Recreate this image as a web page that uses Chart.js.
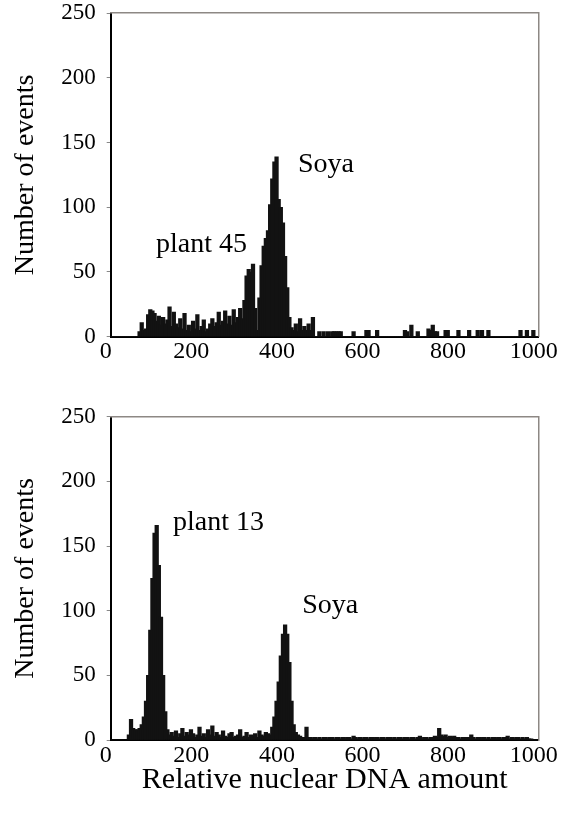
<!DOCTYPE html>
<html><head><meta charset="utf-8">
<script src="https://cdn.jsdelivr.net/npm/chart.js@4/dist/chart.umd.min.js"></script>
<style>
html,body{margin:0;padding:0;background:#fff;width:566px;height:813px;overflow:hidden}
.box{position:absolute;left:0;width:566px}
#b1{top:0;height:370px}
#b2{top:400px;height:413px}
</style></head><body>
<div class="box" id="b1"><canvas id="c1" width="566" height="370"></canvas></div>
<div class="box" id="b2"><canvas id="c2" width="566" height="413"></canvas></div>
<script>
// Histogram bins: width 5 units, bin i covers [5i, 5i+5)
const binWidth = 5;
const xTicks = [0, 200, 400, 600, 800, 1000];
const yTicks = [0, 50, 100, 150, 200, 250];

// Upper panel: plant 45 + Soya (20 rows x 10 bins = 0..995)
const countsPlant45 = [
  0,0,0,0,0,0,0,0,0,0,
  0,0,0,4,11,5,6,17,21,20,
  18,12,16,9,15,10,13,23,8,19,
  10,7,14,6,18,5,9,4,12,6,
  17,5,8,13,4,6,10,14,8,11,
  19,9,12,20,10,16,9,21,11,15,
  22,14,28,47,52,50,56,22,5,30,
  55,70,76,82,102,122,135,139,106,100,
  88,62,38,15,7,5,10,4,14,5,
  8,5,10,5,15,0,0,4,0,4,
  0,4,0,4,4,4,4,4,0,0,
  0,0,0,4,0,0,0,0,0,5,
  5,0,0,0,5,0,0,0,0,0,
  0,0,0,0,0,0,0,5,4,0,
  9,0,0,4,0,0,0,0,6,5,
  9,4,4,0,0,0,5,5,0,0,
  0,0,5,0,0,0,0,5,0,0,
  0,5,0,5,0,0,5,0,0,0,
  0,0,0,0,0,0,0,0,0,0,
  0,5,0,0,5,0,0,5,0,0
];

// Lower panel: plant 13 + Soya
const countsPlant13 = [
  0,0,0,0,0,0,0,0,4,16,
  9,8,8,9,12,18,30,50,85,125,
  160,166,135,95,50,22,8,4,6,3,
  7,2,5,9,3,6,4,8,5,2,
  4,10,3,5,2,8,4,11,3,6,
  4,2,7,3,2,5,6,2,3,4,
  8,2,3,6,2,4,3,5,2,7,
  4,3,6,5,4,10,18,30,45,65,
  82,89,82,60,30,12,6,4,3,2,
  2,10,2,2,1,2,1,2,1,2,
  2,1,2,2,1,2,2,1,2,1,
  2,2,1,3,2,1,2,1,2,2,
  1,2,2,1,2,1,2,2,1,2,
  2,1,2,1,2,2,1,2,2,1,
  2,2,1,2,3,1,2,2,1,2,
  2,3,2,9,4,3,4,2,3,2,
  3,2,2,1,2,2,2,2,4,2,
  1,2,2,1,2,1,2,1,2,2,
  1,2,1,2,2,3,1,2,1,2,
  2,1,2,1,2,1,1,0,0,0
];

const notesTop = [
  {text: 'plant 45', x: 212, y: 71},
  {text: 'Soya', x: 503, y: 133}
];
const notesBottom = [
  {text: 'plant 13', x: 252, y: 168},
  {text: 'Soya', x: 513, y: 104}
];

const SERIF = "'Liberation Serif', 'Times New Roman', serif";

const notesPlugin = {
  id: 'notes',
  afterDatasetsDraw(chart, args, opts) {
    const ctx = chart.ctx, xs = chart.scales.x, ys = chart.scales.y;
    ctx.save();
    ctx.font = '28px ' + SERIF;
    ctx.fillStyle = '#000';
    ctx.textAlign = 'center';
    ctx.textBaseline = 'middle';
    for (const n of opts.items) {
      ctx.fillText(n.text, xs.getPixelForValue(n.x), ys.getPixelForValue(n.y));
    }
    ctx.restore();
  }
};

function makeChart(id, counts, notes, cfg) {
  const data = counts.map((c, i) => ({x: i * binWidth + binWidth / 2, y: c}));
  return new Chart(document.getElementById(id), {
    type: 'bar',
    data: {
      datasets: [{
        data: data,
        backgroundColor: '#121212',
        borderWidth: 0,
        barThickness: 3.6,
        grouped: false
      }]
    },
    plugins: [notesPlugin],
    options: {
      responsive: false,
      animation: false,
      devicePixelRatio: 1,
      layout: {padding: {top: cfg.top, right: 27.3, left: 0, bottom: 0}},
      plugins: {legend: {display: false}, tooltip: {enabled: false}, notes: {items: notes}},
      scales: {
        x: {
          type: 'linear', position: 'bottom', min: 0, max: 1000, offset: false,
          afterBuildTicks: s => { s.ticks = xTicks.map(v => ({value: v})); },
          afterFit: s => { s.height = cfg.xHeight; s.paddingLeft = 0; s.paddingRight = 0; },
          ticks: {
            font: {family: SERIF, size: 24}, color: '#000', padding: 1,
            labelOffset: -5, maxRotation: 0, autoSkip: false,
            callback: v => String(v)
          },
          grid: {drawOnChartArea: false, drawTicks: false, offset: false},
          border: {color: '#000', width: 2},
          title: {
            display: !!cfg.xTitle, text: cfg.xTitle || '',
            font: {family: SERIF, size: 30}, color: '#000',
            padding: {top: 0, bottom: 15}
          }
        },
        y: {
          type: 'linear', position: 'left', min: 0, max: 250,
          afterBuildTicks: s => { s.ticks = yTicks.map(v => ({value: v})); },
          afterFit: s => { s.width = 110.7; s.paddingTop = 0; s.paddingBottom = 0; },
          ticks: {font: {family: SERIF, size: 23}, color: '#000', padding: 11},
          grid: {drawOnChartArea: false, tickLength: 4, color: '#888'},
          border: {color: '#000', width: 2},
          title: {
            display: true, text: 'Number of events',
            font: {family: SERIF, size: 28}, color: '#000',
            padding: {top: 9, bottom: 0}
          }
        },
        xTop: {
          type: 'linear', position: 'top', min: 0, max: 1000, offset: false,
          ticks: {display: false}, grid: {display: false, drawTicks: false},
          afterFit: s => { s.height = 0; },
          border: {color: '#8d8884', width: 1.5}
        },
        yRight: {
          type: 'linear', position: 'right', min: 0, max: 250,
          ticks: {display: false}, grid: {display: false, drawTicks: false},
          afterFit: s => { s.width = 0; },
          border: {color: '#8d8884', width: 1.5}
        }
      }
    }
  });
}

makeChart('c1', countsPlant45, notesTop, {top: 13, xHeight: 33.3});
makeChart('c2', countsPlant13, notesBottom, {top: 16.7, xHeight: 73, xTitle: 'Relative nuclear DNA amount'});
</script>
</body></html>
